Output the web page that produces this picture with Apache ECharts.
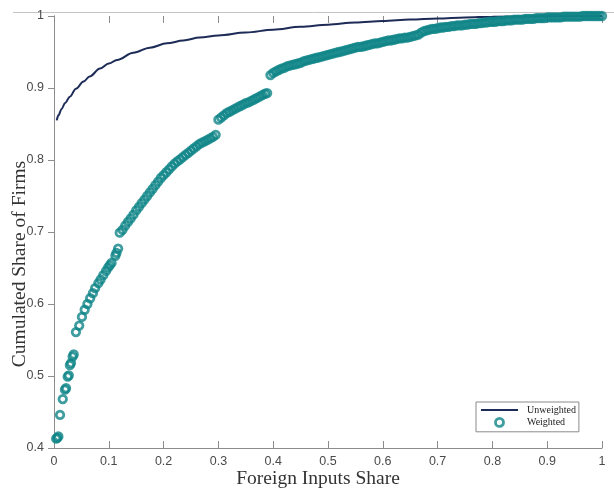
<!DOCTYPE html>
<html><head><meta charset="utf-8">
<script src="https://cdn.jsdelivr.net/npm/echarts@6/dist/echarts.min.js"></script>
<style>html,body{margin:0;padding:0;background:#fff}#c{width:614px;height:494px}</style>
</head><body><div id="c"></div>
<script>
const xTickLabels = ['0','0.1','0.2','0.3','0.4','0.5','0.6','0.7','0.8','0.9','1'];
const yTickLabels = ['0.4','0.5','0.6','0.7','0.8','0.9','1'];

const unweightedX = [0.005,0.008,0.014,0.020,0.029,0.040,0.054,0.065,0.084,0.100,0.115,0.145,0.175,0.206,0.236,0.266,0.300,0.350,0.400,0.450,0.500,0.550,0.600,0.650,0.700,0.750,0.800,0.900,1.000];
const unweightedY = [0.855,0.862,0.871,0.879,0.888,0.899,0.909,0.916,0.927,0.934,0.939,0.949,0.956,0.962,0.966,0.970,0.973,0.977,0.981,0.985,0.988,0.991,0.993,0.995,0.9965,0.998,0.999,0.9995,1.000];

const weighted1X = [0.004,0.006,0.008,0.011,0.016,0.020,0.022,0.025,0.027,0.029,0.031,0.034,0.036,0.040,0.046,0.051,0.056,0.061,0.066,0.071,0.075,0.081,0.085,0.090,0.095,0.099,0.102,0.105,0.112,0.114,0.117];
const weighted1Y = [0.413,0.414,0.416,0.446,0.468,0.481,0.483,0.499,0.501,0.515,0.518,0.527,0.530,0.561,0.570,0.582,0.592,0.600,0.608,0.615,0.622,0.629,0.634,0.640,0.646,0.651,0.654,0.657,0.667,0.671,0.677];

const weighted2X = [0.120,0.125,0.130,0.135,0.140,0.145,0.150,0.155,0.160,0.165,0.170,0.175,0.180,0.185,0.190,0.195,0.200,0.205,0.210,0.215,0.220,0.225,0.230,0.235,0.240,0.245,0.250,0.255,0.260,0.265,0.270,0.275,0.280,0.285,0.290,0.295];
const weighted2Y = [0.699,0.703,0.709,0.714,0.719,0.724,0.730,0.735,0.740,0.745,0.750,0.755,0.760,0.765,0.770,0.775,0.779,0.783,0.787,0.791,0.795,0.798,0.801,0.804,0.807,0.810,0.813,0.816,0.819,0.822,0.824,0.826,0.828,0.830,0.832,0.835];

const weighted3X = [0.300,0.305,0.310,0.315,0.320,0.325,0.330,0.335,0.340,0.345,0.350,0.355,0.360,0.365,0.370,0.375,0.380,0.385,0.389];
const weighted3Y = [0.856,0.859,0.862,0.865,0.867,0.869,0.871,0.873,0.875,0.877,0.879,0.880,0.882,0.884,0.886,0.888,0.890,0.892,0.893];

const weighted4X = [
0.395,0.400,0.405,0.410,0.415,0.420,0.425,0.430,0.435,0.440,
0.445,0.450,0.455,0.460,0.465,0.470,0.475,0.480,0.485,0.490,
0.495,0.500,0.505,0.510,0.515,0.520,0.525,0.530,0.535,0.540,
0.545,0.550,0.555,0.560,0.565,0.570,0.575,0.580,0.585,0.590,
0.595,0.600,0.605,0.610,0.615,0.620,0.625,0.630,0.635,0.640,
0.645,0.650,0.655,0.660,0.665,0.670,0.675,0.680,0.685,0.690,
0.695,0.700,0.705,0.710,0.715,0.720,0.725,0.730,0.735,0.740,
0.745,0.750,0.755,0.760,0.765,0.770,0.775,0.780,0.785,0.790,
0.795,0.800,0.805,0.810,0.815,0.820,0.825,0.830,0.835,0.840,
0.845,0.850,0.855,0.860,0.865,0.870,0.875,0.880,0.885,0.890,
0.895,0.900,0.905,0.910,0.915,0.920,0.925,0.930,0.935,0.940,
0.945,0.950,0.955,0.960,0.965,0.970,0.975,0.980,0.985,0.990,
0.995,1.000];
const weighted4Y = [
0.918,0.921,0.923,0.925,0.927,0.928,0.930,0.931,0.932,0.933,
0.934,0.935,0.937,0.938,0.939,0.940,0.941,0.942,0.943,0.944,
0.945,0.946,0.947,0.948,0.949,0.950,0.951,0.952,0.953,0.954,
0.955,0.956,0.957,0.957,0.958,0.959,0.960,0.961,0.962,0.962,
0.963,0.964,0.965,0.966,0.966,0.967,0.968,0.969,0.969,0.970,
0.970,0.971,0.972,0.973,0.974,0.977,0.979,0.980,0.981,0.982,
0.982,0.983,0.984,0.984,0.985,0.985,0.986,0.986,0.987,0.987,
0.987,0.988,0.988,0.989,0.989,0.989,0.990,0.990,0.991,0.991,
0.992,0.992,0.992,0.993,0.993,0.993,0.994,0.994,0.994,0.995,
0.995,0.995,0.995,0.996,0.996,0.996,0.996,0.997,0.997,0.997,
0.997,0.998,0.998,0.998,0.998,0.998,0.998,0.999,0.999,0.999,
0.999,0.999,0.999,0.999,1.000,1.000,1.000,1.000,1.000,1.000,
1.000,1.000];

const zip = (xs, ys) => xs.map((x, i) => [x, ys[i]]);
const weightedData = [].concat(
  zip(weighted1X, weighted1Y), zip(weighted2X, weighted2Y),
  zip(weighted3X, weighted3Y), zip(weighted4X, weighted4Y));

const NAVY = '#1d2b57';
const TEAL = '#0f8487';
const AXIS = '#8c8c8c';

const chart = echarts.init(document.getElementById('c'), null, {renderer: 'canvas'});
chart.setOption({
  animation: false,
  backgroundColor: '#fff',
  grid: {left: 54, right: 12, top: 16, bottom: 46, containLabel: false},
  xAxis: [{
    type: 'value', position: 'bottom', min: 0, max: 1, interval: 0.1,
    axisLine: {show: true, lineStyle: {color: AXIS, width: 1}},
    axisTick: {show: true, inside: true, length: 7, lineStyle: {color: AXIS}},
    axisLabel: {margin: 7, color: '#4a4a4a', fontFamily: 'Liberation Sans', fontSize: 12.5,
      formatter: v => xTickLabels[Math.round(v * 10)]},
    splitLine: {show: false}
  }, {
    type: 'value', position: 'top', min: 0, max: 1, interval: 0.1,
    axisLine: {show: false},
    axisTick: {show: true, inside: true, length: 7, lineStyle: {color: AXIS}},
    axisLabel: {show: false}, splitLine: {show: false}
  }],
  yAxis: [{
    type: 'value', position: 'left', min: 0.4, max: 1, interval: 0.1,
    axisLine: {show: true, lineStyle: {color: AXIS, width: 1}},
    axisTick: {show: true, inside: false, length: 5, lineStyle: {color: AXIS}},
    axisLabel: {margin: 10, color: '#4a4a4a', fontFamily: 'Liberation Sans', fontSize: 12.5,
      formatter: v => yTickLabels[Math.round(v * 10) - 4]},
    splitLine: {show: false}
  }, {
    type: 'value', position: 'right', min: 0.4, max: 1, interval: 0.1,
    axisLine: {show: true, lineStyle: {color: AXIS, width: 1}},
    axisTick: {show: true, inside: true, length: 6, lineStyle: {color: AXIS}},
    axisLabel: {show: false}, splitLine: {show: false}
  }],
  legend: {
    orient: 'vertical', left: 476, top: 402,
    padding: [3, 3, 4, 5], itemGap: 2, itemWidth: 37, itemHeight: 8,
    borderColor: '#8a8a8a', borderWidth: 1, backgroundColor: '#fff',
    textStyle: {fontFamily: 'Liberation Serif', fontSize: 10, color: '#222', padding: [0, 0, 0, 4]},
    data: [
      {name: 'Unweighted', icon: 'path://M0,0 L37,0 L37,2 L0,2 Z', itemStyle: {color: NAVY, borderWidth: 0}},
      {name: 'Weighted', icon: 'circle', itemStyle: {color: 'rgba(0,0,0,0)', borderColor: TEAL, borderWidth: 2.8}}
    ]
  },
  graphic: [
    {type: 'line', shape: {x1: 13, y1: 12.5, x2: 614, y2: 12.5}, style: {stroke: '#c4c4c4', lineWidth: 1}, silent: true},
    {type: 'text', x: 20, y: 264, rotation: Math.PI / 2, silent: true,
      style: {text: 'Cumulated Share of Firms', fontFamily: 'Liberation Serif', fontSize: 19.5,
        fill: '#333', textAlign: 'center', textVerticalAlign: 'middle'}},
    {type: 'text', x: 318, y: 479, silent: true,
      style: {text: 'Foreign Inputs Share', fontFamily: 'Liberation Serif', fontSize: 19.5,
        fill: '#333', textAlign: 'center', textVerticalAlign: 'middle'}}
  ],
  series: [{
    name: 'Unweighted', type: 'line', xAxisIndex: 0, yAxisIndex: 0,
    data: zip(unweightedX, unweightedY),
    symbol: 'none', showSymbol: false, smooth: 0.35, smoothMonotone: 'x',
    lineStyle: {color: NAVY, width: 2}, itemStyle: {color: NAVY}, z: 2
  }, {
    name: 'Weighted', type: 'scatter', xAxisIndex: 0, yAxisIndex: 0,
    data: weightedData, symbol: 'circle', symbolSize: 7.5, clip: false,
    itemStyle: {color: 'rgba(0,0,0,0)', borderColor: TEAL, borderWidth: 2.8}, z: 3
  }]
});
</script>
</body></html>
